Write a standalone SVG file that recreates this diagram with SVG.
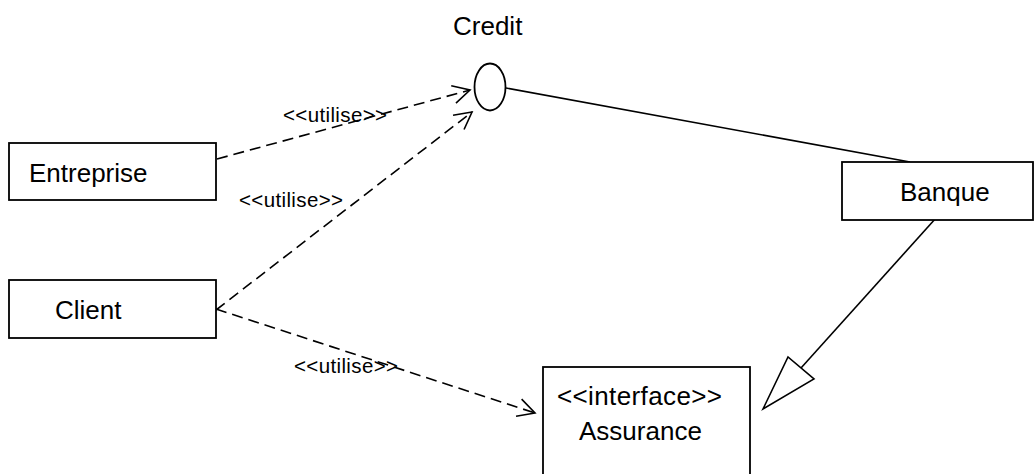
<svg xmlns="http://www.w3.org/2000/svg" width="1035" height="474" viewBox="0 0 1035 474">
<style>
.box{fill:#fff;stroke:#000;stroke-width:1.8}
.t{font-family:"Liberation Sans",Arial,sans-serif;font-size:26px;fill:#000}
.lbl{font-family:"Liberation Sans",Arial,sans-serif;font-size:20.5px;fill:#000}
.dep{fill:none;stroke:#000;stroke-width:1.6;stroke-dasharray:11 6;marker-end:url(#open)}
.solid{fill:none;stroke:#000;stroke-width:1.6}
</style>
<defs>
<marker id="open" markerUnits="userSpaceOnUse" markerWidth="22" markerHeight="22" refX="17" refY="9" orient="auto" overflow="visible">
<path d="M0,0 L17,9 L0,18" fill="none" stroke="#000" stroke-width="1.6"/>
</marker>
</defs>
<rect width="1035" height="474" fill="#fff"/>
<g id="connectors">
<line class="solid" x1="506" y1="88" x2="910" y2="162"/>
<line class="solid" x1="936" y1="218" x2="801" y2="368"/>
<polygon points="763,409 788,357 814,379" fill="#fff" stroke="#000" stroke-width="1.6"/>
<path class="dep" d="M217,159 L470,90"/>
<path class="dep" d="M216,310 L472,112"/>
<path class="dep" d="M216,309 L535,413"/>
<text class="lbl" x="283" y="122" textLength="104" lengthAdjust="spacing">&lt;&lt;utilise&gt;&gt;</text>
<text class="lbl" x="239" y="207" textLength="104" lengthAdjust="spacing">&lt;&lt;utilise&gt;&gt;</text>
<text class="lbl" x="294" y="373" textLength="104" lengthAdjust="spacing">&lt;&lt;utilise&gt;&gt;</text>
</g>
<g id="credit">
<ellipse cx="490" cy="87" rx="15.5" ry="23.5" fill="#fff" stroke="#000" stroke-width="1.8"/>
<text class="t" x="453" y="35">Credit</text>
</g>
<g id="entreprise">
<rect class="box" x="9" y="143" width="207" height="57"/>
<text class="t" x="29" y="182">Entreprise</text>
</g>
<g id="client">
<rect class="box" x="9" y="280" width="207" height="58"/>
<text class="t" x="55" y="319">Client</text>
</g>
<g id="banque">
<rect class="box" x="842" y="162" width="191" height="58"/>
<text class="t" x="900" y="201">Banque</text>
</g>
<g id="assurance">
<rect class="box" x="543" y="367" width="207" height="120"/>
<text class="t" x="557" y="405" textLength="165" lengthAdjust="spacing">&lt;&lt;interface&gt;&gt;</text>
<text class="t" x="579" y="440">Assurance</text>
</g>
</svg>
